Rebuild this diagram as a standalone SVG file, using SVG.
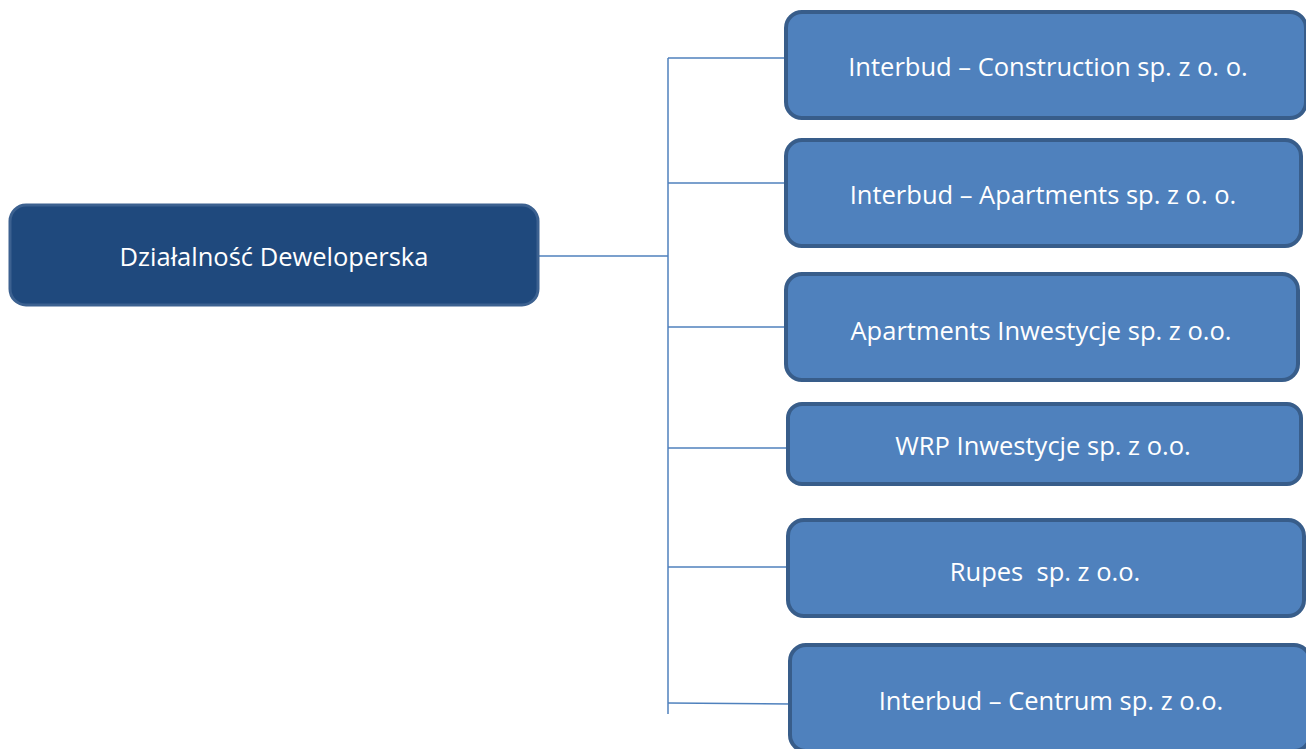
<svg xmlns="http://www.w3.org/2000/svg" width="1306" height="749" viewBox="0 0 1306 749">
<style>
.main rect{fill:#1f497d;stroke:#3c6190;stroke-width:3}
.child rect{fill:#4f81bd;stroke:#385d8a;stroke-width:4}
text{font-family:"Open Sans","Liberation Sans",sans-serif;font-size:25.5px;fill:#ffffff;text-anchor:middle;dominant-baseline:central}
.conn line{stroke:#4f81bd;stroke-width:1.5}
</style>
<rect width="1306" height="749" fill="#ffffff"/>
<g class="conn">
<line x1="530" y1="256" x2="668" y2="256"/>
<line x1="668" y1="58" x2="668" y2="714"/>
<line x1="668" y1="58" x2="787" y2="58"/>
<line x1="668" y1="183" x2="787" y2="183"/>
<line x1="668" y1="327" x2="787" y2="327"/>
<line x1="668" y1="448" x2="789" y2="448"/>
<line x1="668" y1="567" x2="789" y2="567"/>
<line x1="668" y1="703" x2="791" y2="704"/>
</g>
<g id="main" class="main"><rect x="10" y="205" width="528" height="100" rx="16"/><text x="274" y="256">Działalność Deweloperska</text></g>
<g id="n1" class="child"><rect x="786" y="12" width="520" height="106" rx="16"/><text x="1048" y="66">Interbud – Construction sp. z o. o.</text></g>
<g id="n2" class="child"><rect x="786" y="140" width="515" height="106" rx="16"/><text x="1043" y="194">Interbud – Apartments sp. z o. o.</text></g>
<g id="n3" class="child"><rect x="786" y="274" width="512" height="106" rx="16"/><text x="1041" y="330">Apartments Inwestycje sp. z o.o.</text></g>
<g id="n4" class="child"><rect x="788" y="404" width="513" height="80" rx="14"/><text x="1043" y="445">WRP Inwestycje sp. z o.o.</text></g>
<g id="n5" class="child"><rect x="788" y="520" width="516" height="96" rx="16"/><text x="1045" y="571" xml:space="preserve">Rupes  sp. z o.o.</text></g>
<g id="n6" class="child"><rect x="790" y="645" width="520" height="106" rx="16"/><text x="1051" y="700">Interbud – Centrum sp. z o.o.</text></g>
</svg>
